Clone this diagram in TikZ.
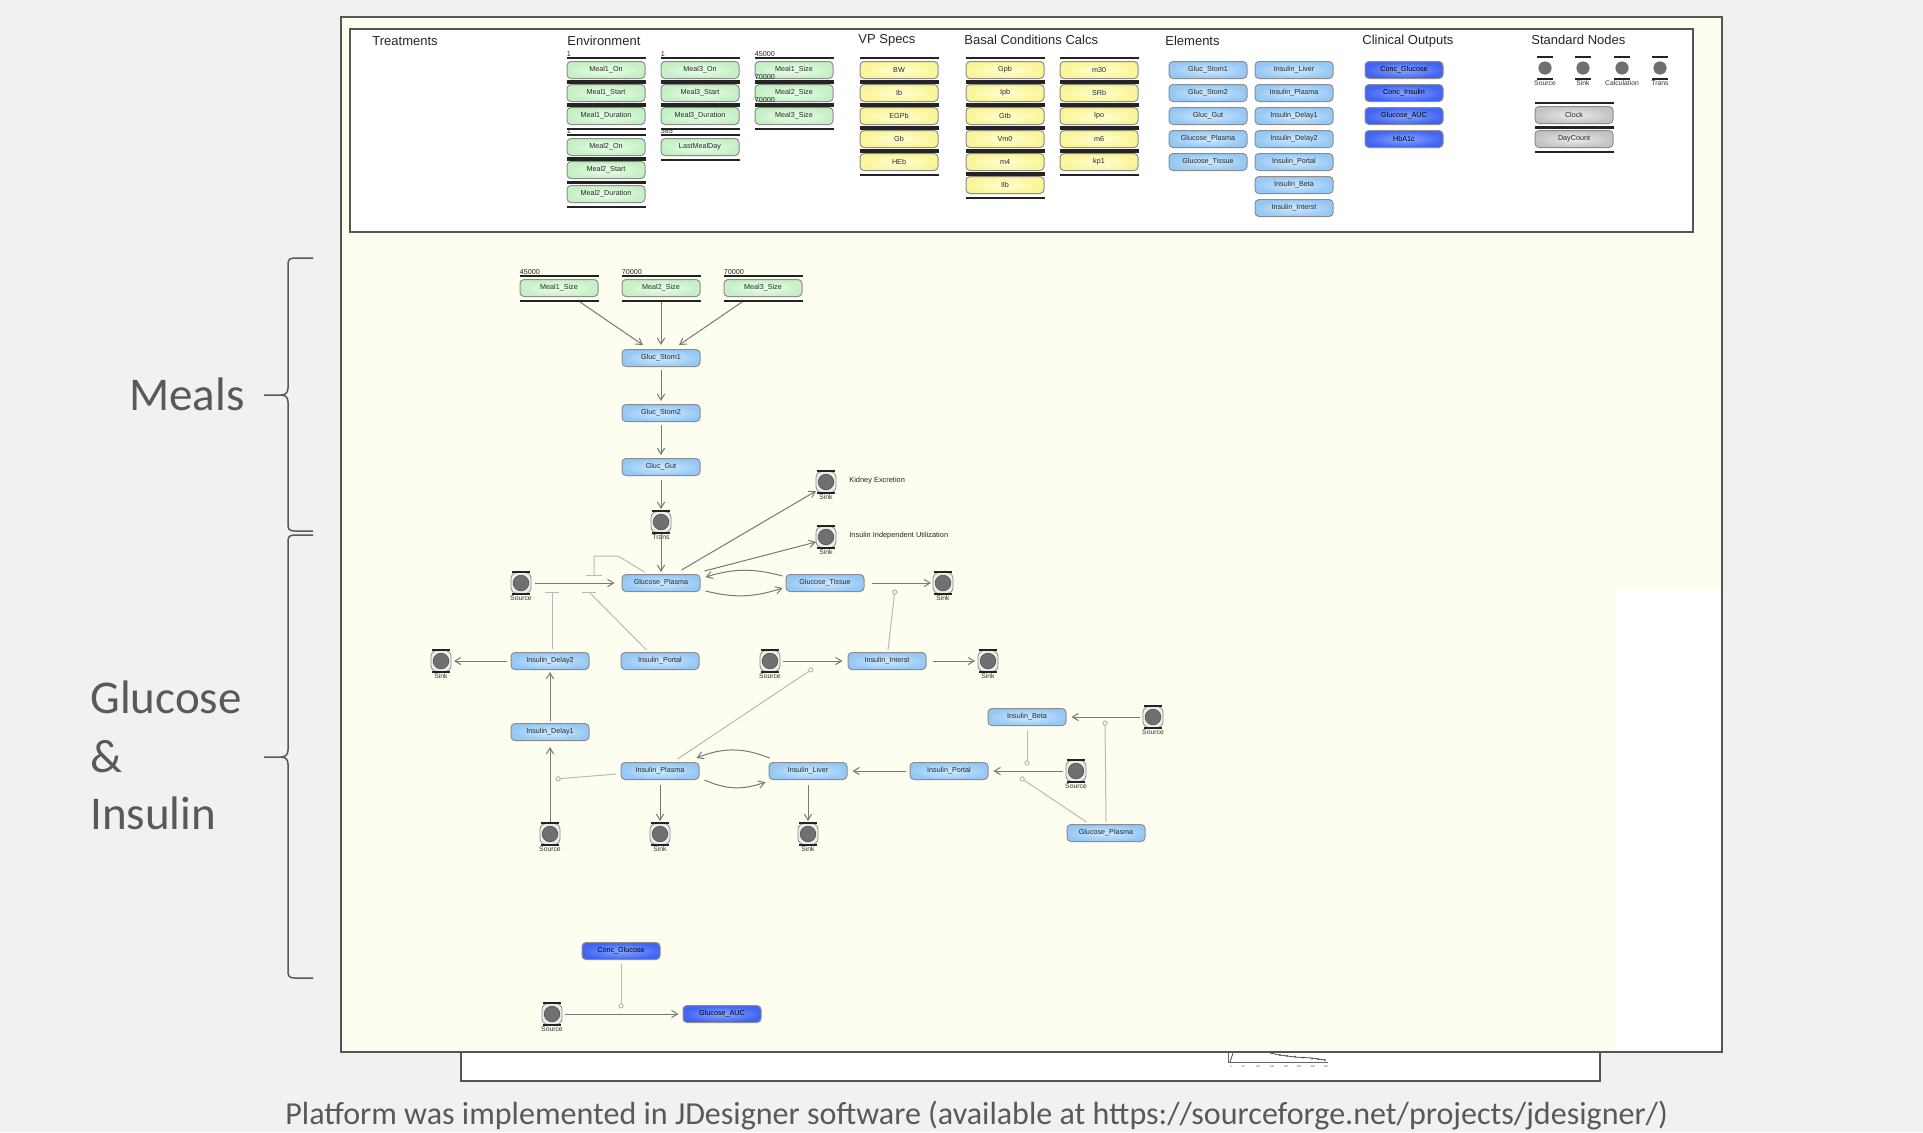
\documentclass[tikz,border=0pt]{standalone}
\usepackage{fontspec}
\setmainfont{Liberation Sans}
\newfontfamily\carl{Carlito}
\usetikzlibrary{calc,arrows.meta}
\definecolor{bg}{RGB}{241,241,241}
\definecolor{cream}{RGB}{253,253,240}
\definecolor{framec}{RGB}{85,85,85}
\definecolor{sidetxt}{RGB}{89,89,89}
\definecolor{grnin}{RGB}{236,255,236}
\definecolor{grnout}{RGB}{196,240,196}
\definecolor{bluin}{RGB}{208,234,255}
\definecolor{bluout}{RGB}{150,200,245}
\definecolor{dbin}{RGB}{135,165,255}
\definecolor{dbout}{RGB}{65,100,242}
\definecolor{ylwin}{RGB}{255,255,215}
\definecolor{ylwout}{RGB}{250,245,150}
\definecolor{gryin}{RGB}{236,236,236}
\definecolor{gryout}{RGB}{195,195,195}
\definecolor{edgec}{RGB}{140,140,140}
\definecolor{arrc}{RGB}{120,120,120}
\definecolor{modc}{RGB}{185,185,185}
\definecolor{barc}{RGB}{35,35,35}
\definecolor{dotc}{RGB}{112,112,112}
\tikzset{
 box/.style={rectangle, rounded corners=2pt, minimum width=39pt, minimum height=8.5pt, inner sep=0pt, draw=edgec, line width=0.5pt, font=\fontsize{3.6}{4}\selectfont, text=black!85},
 gbox/.style={box, inner color=grnin, outer color=grnout},
 bbox/.style={box, inner color=bluin, outer color=bluout},
 dbox/.style={box, inner color=dbin, outer color=dbout, text=black},
 ybox/.style={box, inner color=ylwin, outer color=ylwout},
 kbox/.style={box, inner color=gryin, outer color=gryout},
 barln/.style={draw=barc, line width=1pt},
 numl/.style={inner sep=0pt, font=\fontsize{3.6}{4}\selectfont, text=black!85},
 hdr/.style={inner sep=0pt, font=\fontsize{6.5}{7}\selectfont, text=black!85},
 clab/.style={inner sep=0pt, font=\fontsize{3.4}{4}\selectfont, text=black!80},
 sidelab/.style={inner sep=0pt, font=\fontsize{3.7}{4}\selectfont, text=black!85},
 cnd/.style={rectangle, rounded corners=3pt, minimum width=10pt, minimum height=10.5pt, inner sep=0pt, draw=edgec, line width=0.4pt, fill=gryin,
   path picture={\fill[dotc, draw=dotc!70!black, line width=0.3pt] (path picture bounding box.center) circle (3.9pt);}},
 pcirc/.style={circle, minimum size=6.6pt, inner sep=0pt, fill=dotc},
 arr/.style={draw=arrc, line width=0.5pt, -{Straight Barb[length=3pt,width=3.6pt]}},
 modl/.style={draw=modc, line width=0.5pt, -{Circle[open, length=2.6pt, width=2.6pt]}},
 inhl/.style={draw=modc, line width=0.5pt},
 sidet/.style={inner sep=0pt, text=sidetxt, font=\carl\fontsize{23.5}{29}\selectfont},
 brc/.style={draw=sidetxt, line width=0.75pt},
}
\newcommand\barpair[1]{\draw[barln] ($(#1.north west)+(0,-3.5)$) -- ($(#1.north east)+(0,-3.5)$);\draw[barln] ($(#1.south west)+(0,3.5)$) -- ($(#1.south east)+(0,3.5)$);}
\newcommand\gbn[4]{\node[gbox] (#1) at (#2,#3) {#4};\barpair{#1}}
\newcommand\ybn[4]{\node[ybox] (#1) at (#2,#3) {#4};\barpair{#1}}
\newcommand\kbn[4]{\node[kbox] (#1) at (#2,#3) {#4};\barpair{#1}}
\newcommand\numlab[3]{\node[numl, anchor=south west] (#1) at ($(#2.north west)+(0,-4.5)$) {#3};}
\newcommand\cnode[4]{\node[cnd] (#1) at (#2,#3) {};\draw[barln] ($(#1)+(-9,-11)$) -- ($(#1)+(9,-11)$);\draw[barln] ($(#1)+(-9,11)$) -- ($(#1)+(9,11)$);\node[clab] (#1l) at ($(#1)+(0,15.5)$) {#4};}
\newcommand\pcnode[4]{\node[pcirc] (#1) at (#2,#3) {};\draw[barln] ($(#1)+(-8,-11)$) -- ($(#1)+(8,-11)$);\draw[barln] ($(#1)+(-8,11)$) -- ($(#1)+(8,11)$);\node[clab] (#1l) at ($(#1)+(0,15)$) {#4};}
\begin{document}
\begin{tikzpicture}[x=0.5pt,y=-0.5pt]
\useasboundingbox (0,0) rectangle (1923,1132);
\fill[bg] (0,0) rectangle (1923,1132);
% bottom strip and frame
\draw[fill=white, draw=framec, line width=1pt] (461,1040) rectangle (1600,1081);
\draw[fill=cream, draw=framec, line width=1.2pt] (341,17) rectangle (1722,1052);
\fill[white] (1615,589) rectangle (1720.5,1051);
% tiny chart
\draw[draw=black!60, line width=0.3pt] (1228,1053) -- (1228,1062) -- (1328,1062);
\draw[draw=black!70, line width=0.4pt] (1230,1062) -- (1233,1053);
\draw[draw=black!70, line width=0.4pt] (1270,1053) -- (1280,1055) -- (1287,1056) -- (1295,1057) -- (1312,1058) -- (1325,1060);
\foreach \px in {1280,1287,1295,1303,1312,1318,1325} \fill[black!70] (\px,{1055+(\px-1280)/9}) circle (0.5pt);
\foreach \px/\tl [count=\i] in {1231/0,1243/60,1258/120,1272/180,1286/240,1299/300,1313/360,1326/420}
  \node[inner sep=0pt, font=\fontsize{1.3}{1.5}\selectfont, text=black!70] (tk\i) at (\px,1067) {\tl};
% palette
\draw[fill=white, draw=framec, line width=0.6pt] (350,29) rectangle (1693,232);
\node[hdr, anchor=west] (hTreat) at (372,41) {Treatments};
\node[hdr, anchor=west] (hEnv) at (567,41) {Environment};
\node[hdr, anchor=west] (hVP) at (858,40) {VP Specs};
\node[hdr, anchor=west] (hBasal) at (964,40) {Basal Conditions Calcs};
\node[hdr, anchor=west] (hElem) at (1165,41) {Elements};
\node[hdr, anchor=west] (hClin) at (1362,41) {Clinical Outputs};
\node[hdr, anchor=west] (hStd) at (1531,40) {Standard Nodes};
% environment
\gbn{pMaOn}{606}{70}{Meal1\_On}
\gbn{pMaSt}{606}{93}{Meal1\_Start}
\gbn{pMaDu}{606}{116}{Meal1\_Duration}
\gbn{pMbOn}{606}{147}{Meal2\_On}
\gbn{pMbSt}{606}{170}{Meal2\_Start}
\gbn{pMbDu}{606}{194}{Meal2\_Duration}
\numlab{lpMaOn}{pMaOn}{1}
\numlab{lpMbOn}{pMbOn}{1}
\gbn{pMcOn}{700}{70}{Meal3\_On}
\gbn{pMcSt}{700}{93}{Meal3\_Start}
\gbn{pMcDu}{700}{116}{Meal3\_Duration}
\gbn{pLMD}{700}{147}{LastMealDay}
\numlab{lpMcOn}{pMcOn}{1}
\numlab{lpLMD}{pLMD}{365}
\gbn{pMaSz}{794}{70}{Meal1\_Size}
\gbn{pMbSz}{794}{93}{Meal2\_Size}
\gbn{pMcSz}{794}{116}{Meal3\_Size}
\numlab{lpMaSz}{pMaSz}{45000}
\numlab{lpMbSz}{pMbSz}{70000}
\numlab{lpMcSz}{pMcSz}{70000}
% VP specs
\ybn{pBW}{899}{70}{BW}
\ybn{pIb}{899}{93}{Ib}
\ybn{pEGPb}{899}{116}{EGPb}
\ybn{pGb}{899}{139}{Gb}
\ybn{pHEb}{899}{162}{HEb}
% basal
\ybn{pGpb}{1005}{70}{Gpb}
\ybn{pIpb}{1005}{93}{Ipb}
\ybn{pGtb}{1005}{116}{Gtb}
\ybn{pVm}{1005}{139}{Vm0}
\ybn{pmf}{1005}{162}{m4}
\ybn{pIlb}{1005}{185}{Ilb}
\ybn{pmt}{1099}{70}{m30}
\ybn{pSRb}{1099}{93}{SRb}
\ybn{pIpo}{1099}{116}{Ipo}
\ybn{pms}{1099}{139}{m6}
\ybn{pkp}{1099}{162}{kp1}
% elements
\node[bbox] (eGSa) at (1208,70) {Gluc\_Stom1};
\node[bbox] (eGSb) at (1208,93) {Gluc\_Stom2};
\node[bbox] (eGG) at (1208,116) {Gluc\_Gut};
\node[bbox] (eGP) at (1208,139) {Glucose\_Plasma};
\node[bbox] (eGT) at (1208,162) {Glucose\_Tissue};
\node[bbox] (eIL) at (1294,70) {Insulin\_Liver};
\node[bbox] (eIP) at (1294,93) {Insulin\_Plasma};
\node[bbox] (eIDa) at (1294,116) {Insulin\_Delay1};
\node[bbox] (eIDb) at (1294,139) {Insulin\_Delay2};
\node[bbox] (eIPo) at (1294,162) {Insulin\_Portal};
\node[bbox] (eIB) at (1294,185) {Insulin\_Beta};
\node[bbox] (eII) at (1294,208) {Insulin\_Interst};
% clinical
\node[dbox] (cCG) at (1404,70) {Conc\_Glucose};
\node[dbox] (cCI) at (1404,93) {Conc\_Insulin};
\node[dbox] (cAUC) at (1404,116) {Glucose\_AUC};
\node[dbox] (cHb) at (1404,139) {HbA1c};
% standard nodes
\pcnode{sSrc}{1545}{68}{Source}
\pcnode{sSnk}{1583}{68}{Sink}
\pcnode{sCalc}{1622}{68}{Calculation}
\pcnode{sTrn}{1660}{68}{Trans}
\kbn{sClock}{1574}{115}{Clock}
\kbn{sDay}{1574}{139}{DayCount}
% ===== main diagram =====
\gbn{mA}{559}{288}{Meal1\_Size}
\gbn{mB}{661}{288}{Meal2\_Size}
\gbn{mC}{763}{288}{Meal3\_Size}
\numlab{lmA}{mA}{45000}
\numlab{lmB}{mB}{70000}
\numlab{lmC}{mC}{70000}
\node[bbox] (st1) at (661,358) {Gluc\_Stom1};
\node[bbox] (st2) at (661,413) {Gluc\_Stom2};
\node[bbox] (gut) at (661,467) {Gluc\_Gut};
\cnode{trans}{661}{522}{Trans}
\cnode{kid}{826}{482}{Sink}
\cnode{iiu}{826}{537}{Sink}
\node[sidelab, anchor=west] (kidt) at (849,481) {Kidney Excretion};
\node[sidelab, anchor=west] (iiut) at (849,536) {Insulin Independent Utilization};
\cnode{srcA}{521}{583}{Source}
\node[bbox] (gp) at (661,583) {Glucose\_Plasma};
\node[bbox] (gt) at (825,583) {Glucose\_Tissue};
\cnode{snkA}{943}{583}{Sink}
\cnode{snkB}{441}{661}{Sink}
\node[bbox] (idb) at (550,661) {Insulin\_Delay2};
\node[bbox] (ipa) at (660,661) {Insulin\_Portal};
\cnode{srcB}{770}{661}{Source}
\node[bbox] (iin) at (887,661) {Insulin\_Interst};
\cnode{snkC}{988}{661}{Sink}
\node[bbox] (ib) at (1027,717) {Insulin\_Beta};
\cnode{srcC}{1153}{717}{Source}
\node[bbox] (ida) at (550,732) {Insulin\_Delay1};
\node[bbox] (ip) at (660,771) {Insulin\_Plasma};
\node[bbox] (il) at (808,771) {Insulin\_Liver};
\node[bbox] (ipb) at (949,771) {Insulin\_Portal};
\cnode{srcD}{1076}{771}{Source}
\cnode{srcE}{550}{834}{Source}
\cnode{snkD}{660}{834}{Sink}
\cnode{snkE}{808}{834}{Sink}
\node[bbox] (gpb) at (1106,833) {Glucose\_Plasma};
\node[dbox] (cg) at (621,951) {Conc\_Glucose};
\cnode{srcF}{552}{1014}{Source}
\node[dbox] (auc) at (722,1014) {Glucose\_AUC};
% free ends
\coordinate (mc1) at (895,589.5);
\coordinate (mc2) at (813,668.5);
\coordinate (mc3) at (555.5,779);
\coordinate (mc4) at (1027,765.5);
\coordinate (mc5) at (1020,777.5);
\coordinate (mc6) at (1105,720.5);
\coordinate (mc7) at (621,1008.5);
\coordinate (t1) at (552,592);
\coordinate (t2) at (589,592);
\coordinate (t3) at (594,575);
% meal arrows
\draw[arr] ($(mA.south)+(21,5)$) -- ($(st1.north)+(-18,-4)$);
\draw[arr] ($(mB.south)+(0,5)$) -- ($(st1.north)+(0,-4)$);
\draw[arr] ($(mC.south)+(-21,5)$) -- ($(st1.north)+(18,-4)$);
\draw[arr] ($(st1.south)+(0,3)$) -- ($(st2.north)+(0,-3)$);
\draw[arr] ($(st2.south)+(0,3)$) -- ($(gut.north)+(0,-3)$);
\draw[arr] ($(gut.south)+(0,4)$) -- ($(trans)+(0,-13)$);
\draw[arr] ($(trans)+(0,12)$) -- ($(gp.north)+(0,-2)$);
% glucose
\draw[arr] ($(gp.north east)+(-19,-4)$) -- ($(kid)+(-10,9)$);
\draw[arr] ($(gp.north east)+(4,-3)$) -- ($(iiu)+(-10,5)$);
\draw[arr] ($(srcA)+(14,0)$) -- ($(gp.west)+(-7,0)$);
\draw[arr] ($(gt.north west)+(-3,2)$) to[bend right=16] ($(gp.north east)+(5,3)$);
\draw[arr] ($(gp.south east)+(5,-1)$) to[bend right=16] ($(gt.south west)+(-3,-4)$);
\draw[arr] ($(gt.east)+(7,0)$) -- ($(snkA)+(-12,0)$);
\draw[modl] ($(iin.north)+(1,-2)$) -- (mc1);
\draw[inhl] ($(idb.north)+(2,-3)$) -- (t1);
\draw[inhl] ($(t1)+(-7,0)$) -- ($(t1)+(7,0)$);
\draw[inhl] ($(ipa.north west)+(26,-2)$) -- (t2);
\draw[inhl] ($(t2)+(-7,0)$) -- ($(t2)+(7,0)$);
\draw[inhl] ($(gp.north west)+(23,-2)$) -- (618,556) -- (594,556) -- (t3);
\draw[inhl] ($(t3)+(-8,0)$) -- ($(t3)+(8,0)$);
% insulin
\draw[arr] ($(idb.west)+(-4,0)$) -- ($(snkB)+(13,0)$);
\draw[arr] ($(ida.north)+(0,-2)$) -- ($(idb.south)+(0,2)$);
\draw[arr] ($(srcB)+(13,0)$) -- ($(iin.west)+(-5,0)$);
\draw[arr] ($(iin.east)+(6,0)$) -- ($(snkC)+(-13,0)$);
\draw[modl] ($(ip.north east)+(-22,-3)$) -- (mc2);
\draw[arr] ($(srcE)+(0,-12)$) -- ($(ida.south)+(0,6)$);
\draw[modl] ($(ip.west)+(-4,3)$) -- (mc3);
\draw[arr] ($(il.north west)+(1,-4)$) to[bend right=22] ($(ip.north east)+(-3,-4)$);
\draw[arr] ($(ip.south east)+(5,0)$) to[bend right=22] ($(il.south west)+(-3,2)$);
\draw[arr] ($(ip.south)+(0,5)$) -- ($(snkD)+(0,-13)$);
\draw[arr] ($(il.south)+(0,5)$) -- ($(snkE)+(0,-13)$);
\draw[arr] ($(ipb.west)+(-4,0)$) -- ($(il.east)+(5,0)$);
\draw[arr] ($(srcD)+(-13,0)$) -- ($(ipb.east)+(5,0)$);
\draw[arr] ($(srcC)+(-13,0)$) -- ($(ib.east)+(5,0)$);
\draw[modl] ($(ib.south)+(0,4)$) -- (mc4);
\draw[modl] ($(gpb.north west)+(20,-2)$) -- (mc5);
\draw[modl] ($(gpb.north)+(0,-2)$) -- (mc6);
% AUC
\draw[arr] ($(srcF)+(13,0)$) -- ($(auc.west)+(-4,0)$);
\draw[modl] ($(cg.south)+(0,4)$) -- (mc7);
% braces
\draw[brc] (313,258) -- (295,258) .. controls (289,258) and (288,260) .. (288,265) -- (288,388) .. controls (288,392) and (286,395) .. (281,395) -- (264,395);
\draw[brc] (281,395) .. controls (286,395) and (288,398) .. (288,402) -- (288,524) .. controls (288,529) and (289,531) .. (295,531) -- (313,531);
\draw[brc] (313,535) -- (295,535) .. controls (289,535) and (288,537) .. (288,542) -- (288,750) .. controls (288,754) and (286,757) .. (281,757) -- (264,757);
\draw[brc] (281,757) .. controls (286,757) and (288,760) .. (288,764) -- (288,971) .. controls (288,976) and (289,978) .. (295,978) -- (313,978);
\node[sidet, anchor=base east] (lMeals) at (245,410) {Meals};
\node[sidet, anchor=base west] (lGlu) at (90,713) {Glucose};
\node[sidet, anchor=base west] (lAmp) at (90,772) {\&};
\node[sidet, anchor=base west] (lIns) at (90,829) {Insulin};
\node[inner sep=0pt, text=sidetxt, font=\carl\fontsize{16.03}{19}\selectfont, anchor=base west] (foot) at (285,1124) {Platform was implemented in JDesigner software (available at https://sourceforge.net/projects/jdesigner/)};
\end{tikzpicture}
\end{document}
